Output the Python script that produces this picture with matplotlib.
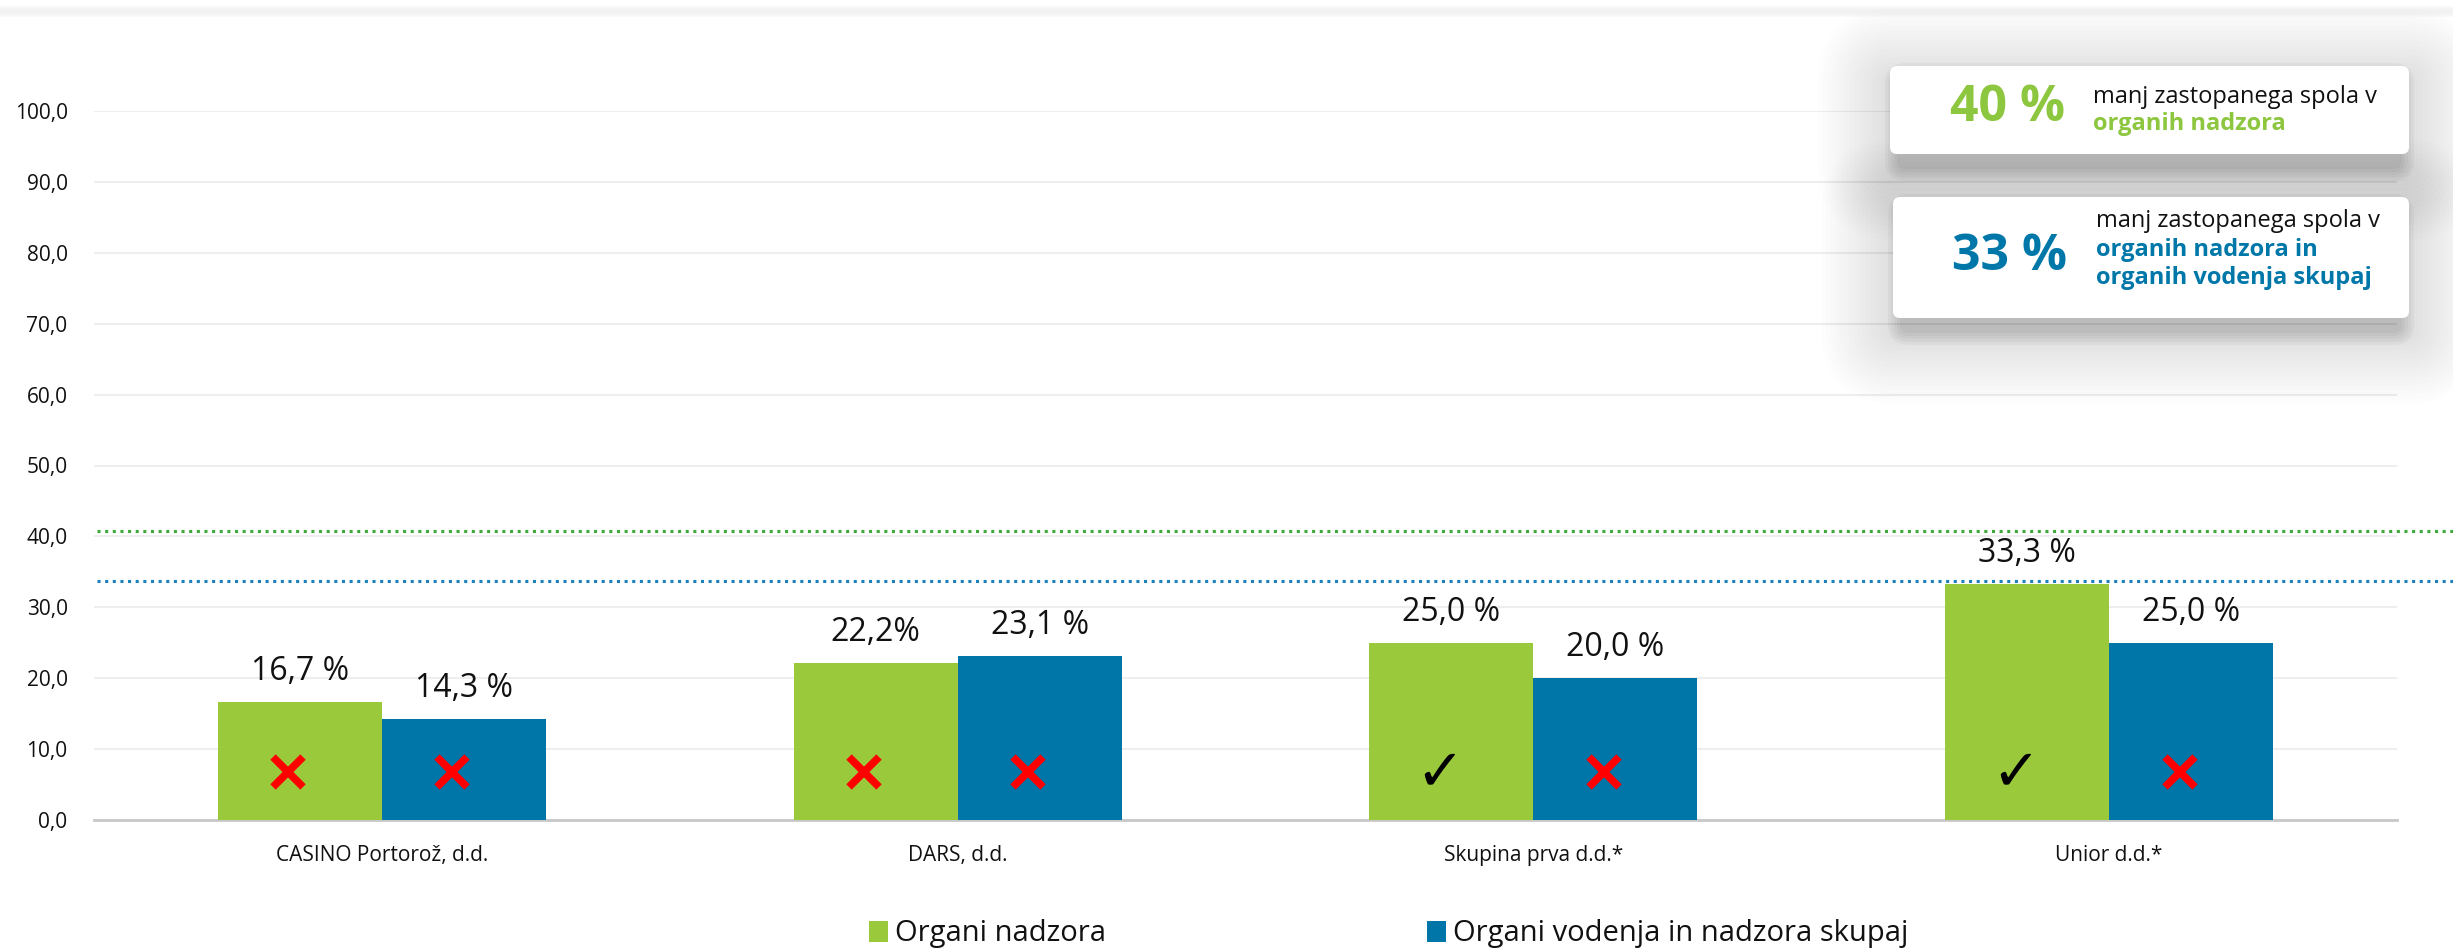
import matplotlib
matplotlib.use("Agg")
import matplotlib.pyplot as plt
from matplotlib.patches import FancyBboxPatch, Rectangle
import matplotlib.transforms as mtransforms
import numpy as np

plt.rcParams['font.family'] = ['Open Sans', 'DejaVu Sans']

# ---------------- data ----------------
categories = ["CASINO Portorož, d.d.", "DARS, d.d.", "Skupina prva d.d.*", "Unior d.d.*"]
series_names = ["Organi nadzora", "Organi vodenja in nadzora skupaj"]
nadzor = [16.7, 22.2, 25.0, 33.3]
skupaj = [14.3, 23.1, 20.0, 25.0]
nadzor_labels = ["16,7 %", "22,2%", "25,0 %", "33,3 %"]
skupaj_labels = ["14,3 %", "23,1 %", "20,0 %", "25,0 %"]
nadzor_ok = [False, False, True, True]
skupaj_ok = [False, False, False, False]
target_nadzor = 40.7   # dotted line as drawn
target_skupaj = 33.7
yticks = [0, 10, 20, 30, 40, 50, 60, 70, 80, 90, 100]

GREEN = "#9BC93C"
BLUE = "#0075A8"
GREEN_TXT = "#8DC63F"
BLUE_TXT = "#0077A9"

W, H = 2453, 950
fig = plt.figure(figsize=(W / 100, H / 100), dpi=100)
fig.patch.set_facecolor("white")
PIX = mtransforms.IdentityTransform()

def fx(px):
    return px / W

def fy(py):
    return 1 - py / H

# faint band at top
for k in range(6):
    fig.add_artist(Rectangle((0, H - 17 + k), W, 9 - 2 * k + 2, transform=PIX,
                             facecolor="#f2f2f2", edgecolor="none", alpha=0.35, zorder=0))

ax_left, ax_right = 94, 2397
ax_bottom, ax_top = 820, 111
ax = fig.add_axes([fx(ax_left), fy(ax_bottom), (ax_right - ax_left) / W, (ax_bottom - ax_top) / H])
ax.set_facecolor("none")

x = np.arange(len(categories))
bw = 0.285
b1 = ax.bar(x - bw / 2, nadzor, bw, color=GREEN, label=series_names[0], zorder=3)
b2 = ax.bar(x + bw / 2, skupaj, bw, color=BLUE, label=series_names[1], zorder=3)

for i in range(len(categories)):
    ax.text(x[i] - bw / 2, nadzor[i] + 4.3, nadzor_labels[i], ha="center", va="center",
            fontsize=23, color="#111111", zorder=5)
    ax.text(x[i] + bw / 2, skupaj[i] + 4.3, skupaj_labels[i], ha="center", va="center",
            fontsize=23, color="#111111", zorder=5)

def mark(xc, ok):
    if ok:
        ax.text(xc, 6.6, "✓", ha="center", va="center", fontsize=42, color="black",
                fontweight="bold", family="DejaVu Sans", zorder=6)
    else:
        ax.plot([xc], [6.8], marker="x", markersize=22, markeredgewidth=5.5,
                color="#FF0000", linestyle="none", zorder=6)

for i in range(len(categories)):
    mark(x[i] - bw / 2 - 0.02, nadzor_ok[i])
    mark(x[i] + bw / 2 - 0.02, skupaj_ok[i])

ax.set_xlim(-0.5, len(categories) - 0.5)
ax.set_ylim(0, 100)
ax.set_yticks(yticks)
ax.set_yticklabels([f"{v:.1f}".replace(".", ",") for v in yticks], fontsize=15, color="#111111")
ax.set_xticks(x)
ax.set_xticklabels(categories, fontsize=15, color="#111111")
ax.tick_params(axis="both", length=0)
ax.tick_params(axis="y", pad=19)
ax.tick_params(axis="x", pad=18)
ax.yaxis.grid(True, color="#eeeeee", linewidth=1.5, zorder=0)
ax.set_axisbelow(True)
for s in ["top", "right", "left"]:
    ax.spines[s].set_visible(False)
ax.spines["bottom"].set_color("#c8c8c8")
ax.spines["bottom"].set_linewidth(2)

# dotted target lines extending to figure edge
trans = mtransforms.blended_transform_factory(fig.transFigure, ax.transData)
ax.plot([fx(97), 1.0], [target_nadzor, target_nadzor], transform=trans, color="#3DAA3A",
        linestyle=(0, (1, 1.5)), linewidth=2.2, clip_on=False, zorder=4)
ax.plot([fx(97), 1.0], [target_skupaj, target_skupaj], transform=trans, color="#1A80BF",
        linestyle=(0, (1, 1.5)), linewidth=2.2, clip_on=False, zorder=4)

# info boxes with soft shadow (pixel coordinates, y from top)
def info_box(x0, y0, x1, y1):
    w = x1 - x0
    h = y1 - y0
    for k in range(16, 0, -1):
        e = k * 4.5
        off = 14
        fig.add_artist(FancyBboxPatch((x0 - e, H - (y1 + off) - e), w + 2 * e, h + 2 * e,
                                      boxstyle=f"round,pad=0,rounding_size={6 + e}",
                                      transform=PIX, facecolor="black",
                                      edgecolor="none", alpha=0.0075, zorder=10))
    for k in range(5, 0, -1):
        e = k * 3.0
        fig.add_artist(FancyBboxPatch((x0 - e + 10, H - (y1 + 12) - e), w + 2 * e - 20, h + 2 * e,
                                      boxstyle=f"round,pad=0,rounding_size={6 + e}",
                                      transform=PIX, facecolor="black",
                                      edgecolor="none", alpha=0.03, zorder=10))
    fig.add_artist(FancyBboxPatch((x0, H - y1), w, h,
                                  boxstyle="round,pad=0,rounding_size=7",
                                  transform=PIX, facecolor="white",
                                  edgecolor="none", zorder=11))

info_box(1890, 66, 2409, 154)
info_box(1893, 197, 2409, 318)

fig.text(fx(2007), fy(108), "40 %", ha="center", va="center", fontsize=36, fontweight="bold",
         color=GREEN_TXT, zorder=12)
fig.text(fx(2093), fy(97), "manj zastopanega spola v", ha="left", va="center", fontsize=17,
         color="#111111", zorder=12)
fig.text(fx(2093), fy(124), "organih nadzora", ha="left", va="center", fontsize=17,
         fontweight="bold", color=GREEN_TXT, zorder=12)

fig.text(fx(2009), fy(257), "33 %", ha="center", va="center", fontsize=36, fontweight="bold",
         color=BLUE_TXT, zorder=12)
fig.text(fx(2096), fy(221), "manj zastopanega spola v", ha="left", va="center", fontsize=17,
         color="#111111", zorder=12)
fig.text(fx(2096), fy(250), "organih nadzora in", ha="left", va="center", fontsize=17,
         fontweight="bold", color=BLUE_TXT, zorder=12)
fig.text(fx(2096), fy(278), "organih vodenja skupaj", ha="left", va="center", fontsize=17,
         fontweight="bold", color=BLUE_TXT, zorder=12)

# legend
fig.legend(handles=[b1, b2], labels=series_names, loc="center", bbox_to_anchor=(fx(1389), fy(934)),
           ncol=2, frameon=False, fontsize=21, handlelength=0.65, handleheight=0.75,
           handletextpad=0.25, columnspacing=11.0, borderpad=0, labelcolor="#111111")

fig.savefig("out.png", dpi=100, facecolor="white")
